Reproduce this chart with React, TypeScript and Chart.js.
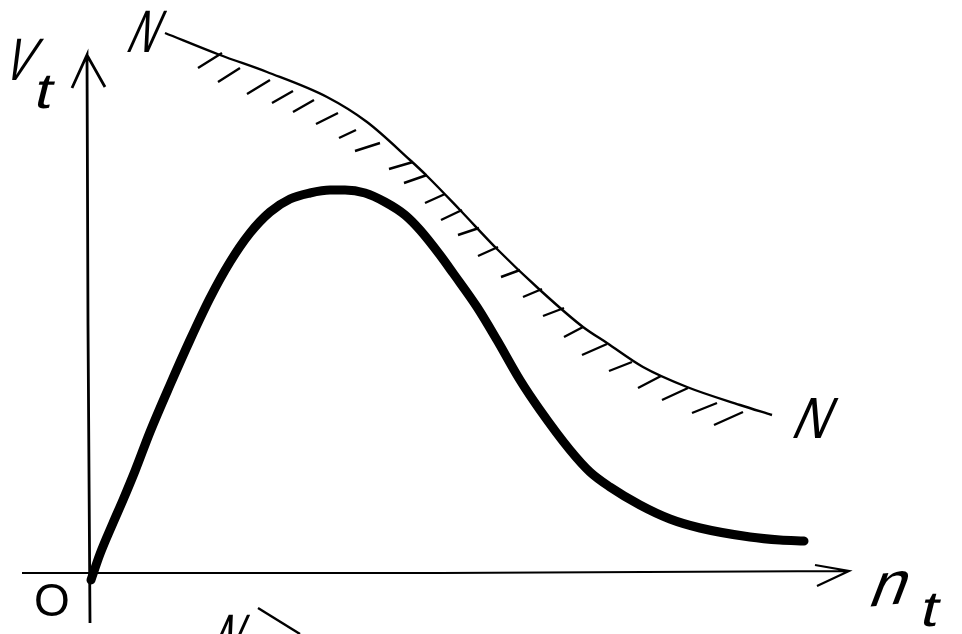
import React, { useEffect, useRef } from "react";
import { Chart, registerables } from "chart.js";

Chart.register(...registerables);

// Sketch units: origin O at the axes' crossing.
const limitX = [-90, 872];
const limitY = [-59, 575];

const speedX = [1, 10, 23, 33, 45, 60, 80, 100, 120, 140, 160, 180, 200, 220, 240, 255, 275, 295, 315, 330, 350, 363, 387, 407, 430, 450, 480, 500, 520, 550, 580, 610, 660, 690, 714];
const speedY = [-5, 21, 52, 75, 104, 143, 190, 235, 277, 313, 342, 363, 376, 382, 385, 385, 382, 373, 360, 345, 320, 302, 268, 235, 195, 165, 125, 103, 88, 70, 56, 47, 38, 35, 34];

const limitCurveX = [75, 130, 177, 237, 277, 320, 337, 370, 407, 450, 493, 517, 553, 597, 650, 682];
const limitCurveY = [542, 520, 503, 478, 453, 415, 399, 365, 326, 285, 248, 232, 208, 188, 170, 160];

const hatchStartX = [108, 128, 157, 182, 203, 226, 249, 265, 299, 314, 335, 351, 368, 388, 411, 433, 453, 474, 492, 519, 548, 572, 602, 624];
const hatchStartY = [507, 493, 481, 472, 463, 451, 437, 424, 406, 392, 372, 355, 340, 319, 298, 278, 259, 238, 220, 204, 187, 175, 162, 150];
const hatchEndX = [132, 150, 180, 203, 224, 248, 266, 290, 323, 337, 355, 372, 389, 408, 430, 452, 474, 493, 517, 542, 571, 598, 627, 653];
const hatchEndY = [522, 507, 495, 484, 475, 462, 445, 432, 413, 400, 381, 365, 347, 328, 305, 286, 267, 248, 231, 213, 199, 187, 172, 163];

const axisVX = [15, -3, -18, -3, -2, 0];
const axisVY = [488, 520, 487, 520, 250, -48];
const axisHX = [727, 759, 725, 759, 350, -68];
const axisHY = [-11, 4, 10, 4, 2, 2];
const strayX = [168, 210];
const strayY = [-33, -59];

const texts = ["N", "N", "V", "t", "O", "n", "t", "N"];

const zip = (xs: number[], ys: number[]) => xs.map((x, i) => ({ x, y: ys[i] }));
const hatchPoints = () => {
  const out: ({ x: number; y: number | null })[] = [];
  hatchStartX.forEach((x, i) => {
    out.push({ x, y: hatchStartY[i] });
    out.push({ x: hatchEndX[i], y: hatchEndY[i] });
    out.push({ x: hatchEndX[i], y: null });
  });
  return out;
};

// x, y (sketch units), size, rotation, skew, horizontal scale for each of `texts`
const placements = [
  [34, 523, 60, 0, -0.45, 0.64],
  [699, 137, 58, 0, -0.45, 0.85],
  [-89.5, 495, 60, 0, -0.4, 0.68],
  [-58, 467, 50, 0, -0.25, 1.25],
  [-56, -41, 46, 0, 0, 1.0],
  [776, -32, 60, -0.1, -0.5, 1.1],
  [828, -51, 50, 0, -0.25, 1.25],
  [117, -81, 60, 0, -0.45, 0.64],
];

const labelPlugin = {
  id: "sketchLabels",
  afterDatasetsDraw(chart: any) {
    const { ctx, scales } = chart;
    ctx.save();
    ctx.fillStyle = "#000";
    ctx.textBaseline = "alphabetic";
    texts.forEach((t, i) => {
      const [x, y, size, rot, skew, sx] = placements[i];
      ctx.save();
      ctx.translate(scales.x.getPixelForValue(x), scales.y.getPixelForValue(y));
      ctx.rotate(rot);
      ctx.transform(sx, 0, skew, 1, 0, 0);
      ctx.font = `${size}px "Liberation Sans"`;
      ctx.fillText(t, 0, 0);
      ctx.restore();
    });
    ctx.restore();
  },
};

export default function App() {
  const ref = useRef<HTMLCanvasElement>(null);
  useEffect(() => {
    document.body.style.background = "#fff";
    const thin = { borderColor: "#000", pointRadius: 0, tension: 0, fill: false };
    const chart = new Chart(ref.current!, {
      type: "line",
      data: {
        datasets: [
          { label: "V_t", data: zip(speedX, speedY), borderColor: "#000", borderWidth: 9, pointRadius: 0, cubicInterpolationMode: "monotone", borderCapStyle: "round", fill: false },
          { label: "N-N", data: zip(limitCurveX, limitCurveY), borderColor: "#000", borderWidth: 2.4, pointRadius: 0, cubicInterpolationMode: "monotone", fill: false },
          { label: "hatching", data: hatchPoints(), borderWidth: 2.4, spanGaps: false, ...thin },
          { label: "V axis", data: zip(axisVX, axisVY), borderWidth: 2.8, ...thin },
          { label: "n axis", data: zip(axisHX, axisHY), borderWidth: 2.2, ...thin },
          { label: "stray", data: zip(strayX, strayY), borderWidth: 2.4, ...thin },
        ],
      },
      options: {
        animation: false,
        responsive: false,
        layout: { padding: 0 },
        plugins: { legend: { display: false }, tooltip: { enabled: false }, title: { display: false } },
        scales: {
          x: { type: "linear", min: limitX[0], max: limitX[1], display: false },
          y: { type: "linear", min: limitY[0], max: limitY[1], display: false },
        },
      },
      plugins: [labelPlugin],
    } as any);
    return () => chart.destroy();
  }, []);
  return (
    <canvas
      ref={ref}
      width={962}
      height={634}
      style={{ position: "absolute", left: 0, top: 0, width: 962, height: 634, display: "block" }}
    />
  );
}
